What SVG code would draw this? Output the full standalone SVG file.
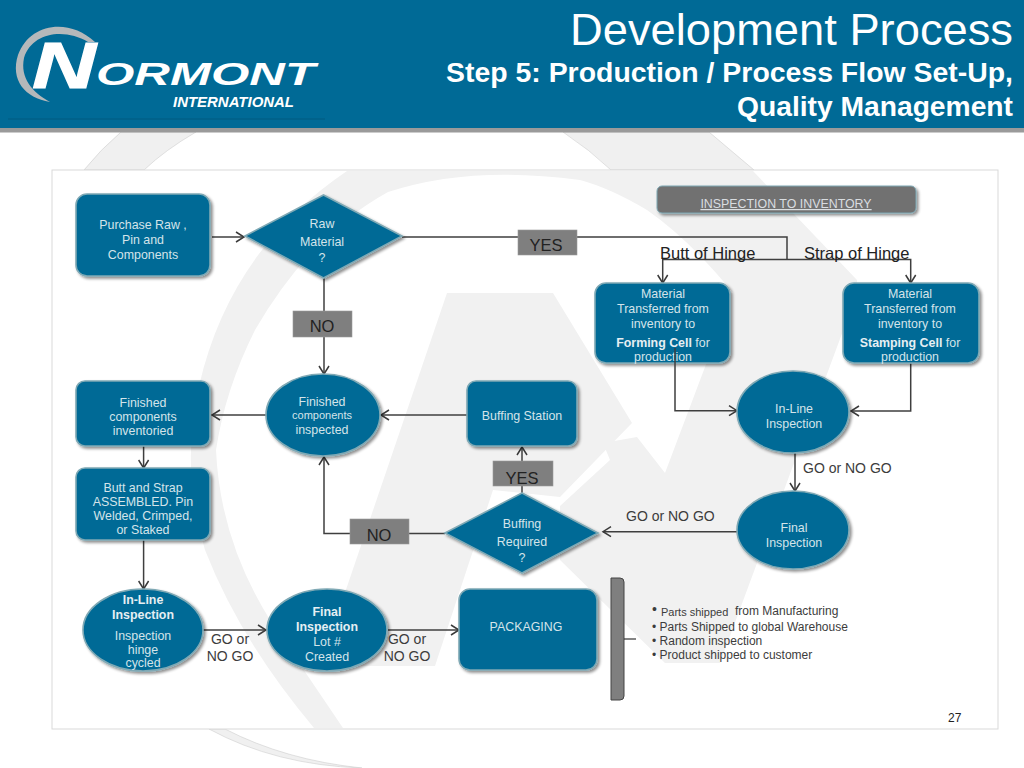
<svg xmlns="http://www.w3.org/2000/svg" width="1024" height="768" viewBox="0 0 1024 768">
<defs>
<filter id="sh" x="-15%" y="-15%" width="135%" height="135%"><feGaussianBlur in="SourceAlpha" stdDeviation="1.6"/><feOffset dx="2" dy="2"/><feComponentTransfer><feFuncA type="linear" slope="0.45"/></feComponentTransfer><feMerge><feMergeNode/><feMergeNode in="SourceGraphic"/></feMerge></filter>
<marker id="ah" markerWidth="12" markerHeight="12" refX="10" refY="6" orient="auto" markerUnits="userSpaceOnUse"><path d="M2 1L10 6L2 11" fill="none" stroke="#3a3a3a" stroke-width="1.5"/></marker>
</defs>
<style>
text{font-family:"Liberation Sans",Arial,sans-serif}
.b{fill:#006a96;stroke:#7fa9b5;stroke-width:1.6;filter:url(#sh)}
.t{fill:#d4e4ea;font-size:12.4px;text-anchor:middle}
.tb{font-weight:bold;fill:#e6eff3}
.g{fill:#7f7f7f;stroke:#999;stroke-width:.6}
.l{fill:#222;font-size:16.5px;text-anchor:middle}
.d{fill:#3c3c3c;font-size:14px}
.c{fill:none;stroke:#3f3f3f;stroke-width:1.5}
.a{marker-end:url(#ah)}
.w{fill:#f1f1f1}
.bl{fill:#3c3c3c;font-size:12px}
</style>
<rect width="1024" height="768" fill="#fff"/>
<g id="watermark-outer" fill="#f0f0f0" stroke="#cfcfcf" stroke-width=".6">
<path d="M121 132L196 132Q165 150 144 170H84Q100 150 121 132Z"/>
<path d="M563 132H709L754 170H611Q590 150 563 132Z"/>
<path d="M209 729H225Q285 760 362 768Q275 765 209 729Z"/>
</g>
<rect id="panel" x="52" y="170" width="946" height="559" fill="#fff" stroke="#d9d9d9"/>
<g id="watermark">
<path class="w" d="M347 171H753L857 280V293H733Q690 240 647 210Q610 188 580 180Q470 165 388 192Q310 235 255 330Q225 390 216 450Q220 540 270 620L343 728H314Q240 640 205 550Q180 470 199 386Q230 250 347 171Z"/>
<path class="w" d="M447 293H553L632 423L560 497L493 490L435 666H320Z"/>
<path class="w" d="M560 506L610 460L603 443L637 437L665 473L705 367L730 293H857L720 663H665L560 560Z"/>
</g>
<g id="header">
<rect width="1024" height="128" fill="#006a96"/>
<rect y="128" width="1024" height="4.500" fill="#9a9a9a"/>
<path d="M8 119H325" stroke="#005a80" stroke-width="1"/>
<path d="M95 42C70 18 30 22 18 55C10 80 25 98 50 102C32 92 20 78 24 58C32 32 65 28 88 42Z" fill="#b5b8ba"/>
<text x="32" y="88" font-size="64" font-weight="bold" font-style="italic" fill="#fff" stroke="#fff" stroke-width="1" textLength="64" lengthAdjust="spacingAndGlyphs">N</text>
<text x="96" y="85" font-size="32" font-weight="bold" font-style="italic" fill="#fff" textLength="219" lengthAdjust="spacingAndGlyphs">ORMONT</text>
<text x="173" y="106.5" font-size="14.5" font-weight="bold" font-style="italic" fill="#fff" textLength="121" lengthAdjust="spacingAndGlyphs">INTERNATIONAL</text>
<text x="570" y="45" font-size="44" fill="#fff" textLength="443" lengthAdjust="spacingAndGlyphs">Development Process</text>
<text x="446" y="82" font-size="27.5" font-weight="bold" fill="#fff" textLength="567" lengthAdjust="spacingAndGlyphs">Step 5: Production / Process Flow Set-Up,</text>
<text x="737" y="116" font-size="27.5" font-weight="bold" fill="#fff" textLength="276" lengthAdjust="spacingAndGlyphs">Quality Management</text>
</g>
<g id="connectors">
<path class="c a" d="M212 237H244"/>
<path class="c" d="M402 237H787V259.500"/>
<path class="c a" d="M787 259.500H662.700V283"/>
<path class="c a" d="M787 259.500H910.700V283"/>
<path class="c a" d="M324 278V374"/>
<path class="c a" d="M467 415H381"/>
<path class="c a" d="M266 415H212"/>
<path class="c a" d="M143.600 446V468"/>
<path class="c a" d="M143.600 540V589"/>
<path class="c a" d="M203 630H266"/>
<path class="c a" d="M388 630H459"/>
<path class="c a" d="M522 493V447"/>
<path class="c a" d="M445 533.500H324V457"/>
<path class="c a" d="M737 531.700H603"/>
<path class="c a" d="M795 453V491"/>
<path class="c a" d="M910.700 363V411H851"/>
</g>
<g id="purchase"><rect class="b" x="76" y="194" width="134" height="82" rx="11"/><text class="t"><tspan x="143" y="229">Purchase Raw ,</tspan><tspan x="143" y="244">Pin and</tspan><tspan x="143" y="259">Components</tspan></text></g>
<g id="raw"><polygon class="b" points="245,236 323.500,195 402,236 323.500,278"/><text class="t"><tspan x="322" y="228">Raw</tspan><tspan x="322" y="246">Material</tspan><tspan x="322" y="262">?</tspan></text></g>
<g id="yes1"><rect class="g" x="518" y="230" width="59" height="25"/><text class="l" x="546" y="251">YES</text></g>
<g id="no1"><rect class="g" x="293" y="311" width="59" height="26"/><text class="l" x="322" y="332">NO</text></g>
<g id="inspinv"><rect x="657" y="186" width="259" height="27" rx="5" fill="#717171" stroke="#7fa9b5" stroke-width="1" filter="url(#sh)"/><text x="786" y="208" font-size="12.4" fill="#d9dde0" text-anchor="middle" text-decoration="underline">INSPECTION TO INVENTORY</text></g>
<g id="butt-label"><text x="660" y="259" font-size="16.5" fill="#222">Butt of Hinge</text></g>
<g id="strap-label"><text x="804" y="259" font-size="16.5" fill="#222">Strap of Hinge</text></g>
<g id="forming"><rect class="b" x="595" y="283" width="135" height="80" rx="11"/><text class="t"><tspan x="663" y="298">Material</tspan><tspan x="663" y="313">Transferred from</tspan><tspan x="663" y="328">inventory to</tspan><tspan x="663" y="347"><tspan class="tb">Forming Cell</tspan> for</tspan><tspan x="663" y="361">production</tspan></text></g>
<g id="stamping"><rect class="b" x="843" y="283" width="136" height="80" rx="11"/><text class="t"><tspan x="910" y="298">Material</tspan><tspan x="910" y="313">Transferred from</tspan><tspan x="910" y="328">inventory to</tspan><tspan x="910" y="347"><tspan class="tb">Stamping Cell</tspan> for</tspan><tspan x="910" y="361">production</tspan></text></g>
<path class="c a" d="M675 348V410.700H737"/>
<g id="inline2"><ellipse class="b" cx="793" cy="412" rx="56" ry="41"/><text class="t"><tspan x="794" y="413">In-Line</tspan><tspan x="794" y="428">Inspection</tspan></text></g>
<g id="final2"><ellipse class="b" cx="793" cy="530" rx="56" ry="39"/><text class="t"><tspan x="794" y="532">Final</tspan><tspan x="794" y="547">Inspection</tspan></text></g>
<text class="d" x="803" y="473">GO or NO GO</text>
<text class="d" x="626" y="521">GO or NO GO</text>
<g id="finished-insp"><ellipse class="b" cx="323" cy="415" rx="57" ry="41"/><text class="t"><tspan x="322" y="406">Finished</tspan><tspan x="322" y="419" font-size="11">components</tspan><tspan x="322" y="434">inspected</tspan></text></g>
<g id="finished-inv"><rect class="b" x="76" y="381" width="134" height="65" rx="9"/><text class="t"><tspan x="143" y="407">Finished</tspan><tspan x="143" y="420.500">components</tspan><tspan x="143" y="434.500">inventoried</tspan></text></g>
<g id="buffst"><rect class="b" x="467" y="381" width="110" height="65" rx="9"/><text class="t" x="522" y="420">Buffing Station</text></g>
<g id="yes2"><rect class="g" x="493" y="461" width="60" height="25"/><text class="l" x="522" y="484">YES</text></g>
<g id="buffreq"><polygon class="b" points="445,533 522,493 598,533 522,573"/><text class="t"><tspan x="522" y="528">Buffing</tspan><tspan x="522" y="546">Required</tspan><tspan x="522" y="562">?</tspan></text></g>
<g id="no2"><rect class="g" x="350" y="519" width="59" height="25"/><text class="l" x="379" y="541">NO</text></g>
<g id="assembled"><rect class="b" x="76" y="468" width="134" height="72" rx="9"/><text class="t"><tspan x="143" y="492">Butt and Strap</tspan><tspan x="143" y="505.500">ASSEMBLED. Pin</tspan><tspan x="143" y="520">Welded, Crimped,</tspan><tspan x="143" y="533.500">or Staked</tspan></text></g>
<g id="inline1"><ellipse class="b" cx="143" cy="630" rx="60" ry="41"/><text class="t"><tspan x="143" y="604" class="tb">In-Line</tspan><tspan x="143" y="619" class="tb">Inspection</tspan><tspan x="143" y="640">Inspection</tspan><tspan x="143" y="653.500">hinge</tspan><tspan x="143" y="667">cycled</tspan></text></g>
<g id="final1"><ellipse class="b" cx="327" cy="630" rx="60" ry="41"/><text class="t"><tspan x="327" y="616" class="tb">Final</tspan><tspan x="327" y="631" class="tb">Inspection</tspan><tspan x="327" y="646">Lot #</tspan><tspan x="327" y="661">Created</tspan></text></g>
<g id="packaging"><rect class="b" x="459" y="589" width="138" height="81" rx="11"/><text class="t" x="526" y="631">PACKAGING</text></g>
<text class="d" text-anchor="middle"><tspan x="230" y="644">GO or</tspan><tspan x="230" y="661">NO GO</tspan></text>
<text class="d" text-anchor="middle"><tspan x="407" y="644">GO or</tspan><tspan x="407" y="661">NO GO</tspan></text>
<g id="bracket"><path d="M611 578H620Q624 578 624 582V696Q624 700 620 700H611Z" fill="#7f7f7f" stroke="#444" stroke-width="1"/><path d="M624 639H636" stroke="#333" stroke-width="1.2"/></g>
<g id="notes"><text class="bl" x="652" y="614" style="font-size:14px">•</text><text class="bl" x="661" y="616" style="font-size:11px">Parts shipped</text><text class="bl" x="735" y="615">from Manufacturing</text><text class="bl" x="652" y="631">• Parts Shipped to global Warehouse</text><text class="bl" x="652" y="645">• Random inspection</text><text class="bl" x="652" y="659">• Product shipped to customer</text></g>
<text x="948" y="722" font-size="12" fill="#222">27</text>
</svg>
